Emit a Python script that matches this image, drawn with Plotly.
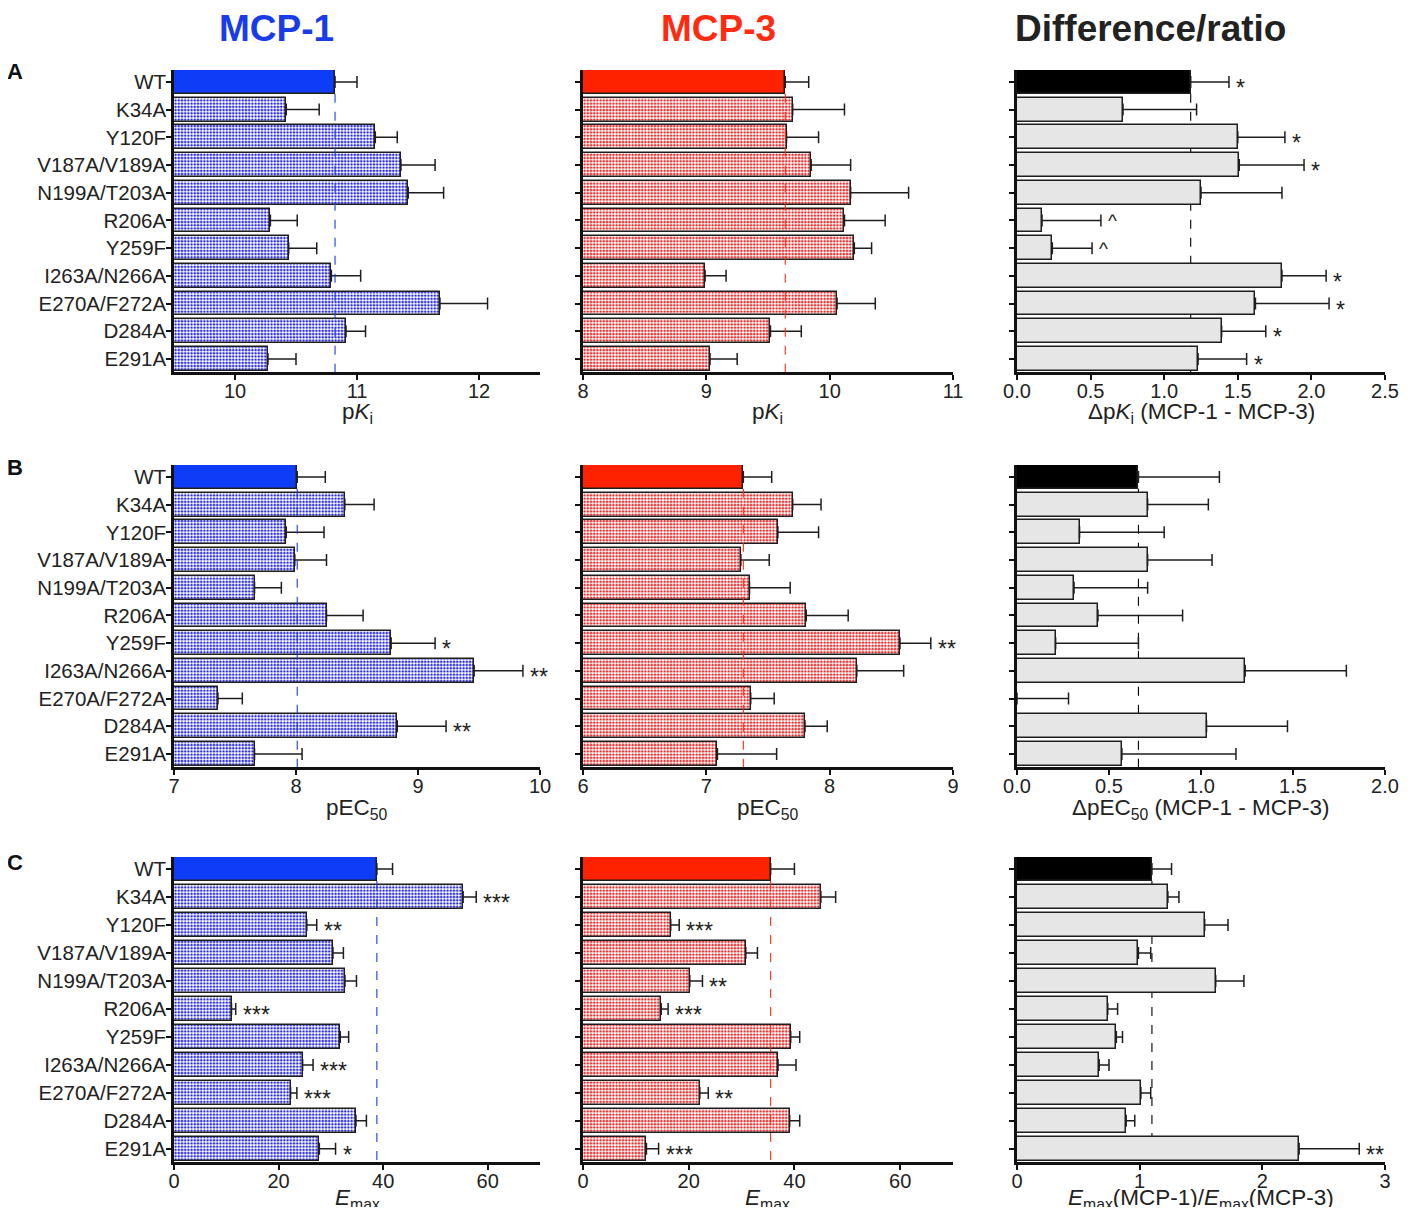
import plotly.graph_objects as go

# ---------------- data ----------------
mutants = ["WT", "K34A", "Y120F", "V187A/V189A", "N199A/T203A", "R206A", "Y259F",
           "I263A/N266A", "E270A/F272A", "D284A", "E291A"]

# Row A: pKi
pki_mcp1 = [10.82, 10.42, 11.15, 11.36, 11.42, 10.29, 10.44, 10.79, 11.68, 10.91, 10.27]
pki_mcp1_err = [0.18, 0.27, 0.18, 0.28, 0.29, 0.22, 0.23, 0.24, 0.39, 0.16, 0.23]
pki_mcp1_sig = [""] * 11
pki_mcp3 = [9.64, 9.70, 9.65, 9.85, 10.17, 10.12, 10.20, 8.99, 10.06, 9.52, 9.03]
pki_mcp3_err = [0.19, 0.42, 0.26, 0.32, 0.47, 0.33, 0.14, 0.17, 0.31, 0.25, 0.22]
pki_mcp3_sig = [""] * 11
dpki = [1.18, 0.72, 1.50, 1.51, 1.25, 0.17, 0.24, 1.80, 1.62, 1.39, 1.23]
dpki_err = [0.26, 0.50, 0.32, 0.44, 0.55, 0.40, 0.27, 0.30, 0.50, 0.30, 0.33]
dpki_sig = ["*", "", "*", "*", "", "^", "^", "*", "*", "*", "*"]

# Row B: pEC50
pec_mcp1 = [8.01, 8.40, 7.92, 7.99, 7.66, 8.25, 8.78, 9.46, 7.36, 8.83, 7.66]
pec_mcp1_err = [0.23, 0.24, 0.31, 0.26, 0.22, 0.30, 0.36, 0.40, 0.20, 0.40, 0.39]
pec_mcp1_sig = ["", "", "", "", "", "", "*", "**", "", "**", ""]
pec_mcp3 = [7.30, 7.70, 7.58, 7.28, 7.35, 7.81, 8.57, 8.22, 7.36, 7.80, 7.09]
pec_mcp3_err = [0.23, 0.23, 0.33, 0.23, 0.33, 0.34, 0.25, 0.38, 0.19, 0.18, 0.48]
pec_mcp3_sig = ["", "", "", "", "", "", "**", "", "", "", ""]
dpec = [0.66, 0.71, 0.34, 0.71, 0.31, 0.44, 0.21, 1.24, 0.0, 1.03, 0.57]
dpec_err = [0.44, 0.33, 0.46, 0.35, 0.40, 0.46, 0.45, 0.55, 0.28, 0.44, 0.62]
dpec_sig = [""] * 11

# Row C: Emax
emax_mcp1 = [38.8, 55.3, 25.4, 30.4, 32.7, 11.0, 31.8, 24.6, 22.3, 34.8, 27.8]
emax_mcp1_err = [3.0, 2.5, 1.9, 2.0, 2.2, 0.8, 1.6, 2.0, 1.2, 2.0, 3.1]
emax_mcp1_sig = ["", "***", "**", "", "", "***", "", "***", "***", "", "*"]
emax_mcp3 = [35.5, 45.0, 16.6, 30.8, 20.2, 14.8, 39.3, 36.9, 22.1, 39.1, 12.0]
emax_mcp3_err = [4.5, 2.8, 1.6, 2.2, 2.4, 1.3, 1.7, 3.4, 1.6, 1.9, 2.3]
emax_mcp3_sig = ["", "", "***", "", "**", "***", "", "", "**", "", "***"]
emax_ratio = [1.10, 1.23, 1.53, 0.99, 1.62, 0.74, 0.81, 0.67, 1.01, 0.89, 2.30]
emax_ratio_err = [0.16, 0.09, 0.19, 0.10, 0.23, 0.08, 0.05, 0.08, 0.08, 0.07, 0.49]
emax_ratio_sig = [""] * 10 + ["**"]

# axis settings
x_ranges = [[9.5, 12.5], [8, 11], [0, 2.5],
            [7, 10], [6, 9], [0, 2],
            [0, 70], [0, 70], [0, 3]]
x_ticks = [[10, 11, 12], [8, 9, 10, 11], [0, 0.5, 1, 1.5, 2, 2.5],
           [7, 8, 9, 10], [6, 7, 8, 9], [0, 0.5, 1, 1.5, 2],
           [0, 20, 40, 60], [0, 20, 40, 60], [0, 1, 2, 3]]
x_fmt = ["", "", ".1f", "", "", ".1f", "", "", ""]
x_titles = ["p<i>K</i><sub>i</sub>", "p<i>K</i><sub>i</sub>",
            "\u0394p<i>K</i><sub>i</sub> (MCP-1 - MCP-3)",
            "pEC<sub>50</sub>", "pEC<sub>50</sub>",
            "\u0394pEC<sub>50</sub> (MCP-1 - MCP-3)",
            "<i>E</i><sub>max</sub>", "<i>E</i><sub>max</sub>",
            "<i>E</i><sub>max</sub>(MCP-1)/<i>E</i><sub>max</sub>(MCP-3)"]

panels = [
    (pki_mcp1, pki_mcp1_err, pki_mcp1_sig), (pki_mcp3, pki_mcp3_err, pki_mcp3_sig), (dpki, dpki_err, dpki_sig),
    (pec_mcp1, pec_mcp1_err, pec_mcp1_sig), (pec_mcp3, pec_mcp3_err, pec_mcp3_sig), (dpec, dpec_err, dpec_sig),
    (emax_mcp1, emax_mcp1_err, emax_mcp1_sig), (emax_mcp3, emax_mcp3_err, emax_mcp3_sig),
    (emax_ratio, emax_ratio_err, emax_ratio_sig),
]

# ---------------- styling ----------------
W, H = 1399, 1199   # page has an 8px body margin
FONT = "Liberation Sans, Arial, Helvetica, sans-serif"
col_px = [(166, 532), (575, 945), (1009, 1377)]
row_px = [(62, 364), (457, 759), (849, 1154)]
title_y = [405, 801, 1191]

BLUE_T = "#1a3ce8"
RED_T = "#ff2a10"
wt_colors = ["#0f3cf7", "#ff2200", "#000000"]
mut_colors = ["#2a2ae0", "#ee2a2a", "#e6e6e6"]
mut_shapes = [".", ".", ""]
line_colors = ["#1a3ce8", "#ff2a10", "#000000"]
line_layers = ["above", "above", "below"]
BAR_W = 0.86
Y_RANGE = [10.47, -0.43]

fig = go.Figure()
layout_axes = {}
shapes = []
annotations = []

for k, (vals, errs, sigs) in enumerate(panels):
    r, c = divmod(k, 3)
    n = k + 1
    xa = "x" if n == 1 else f"x{n}"
    ya = "y" if n == 1 else f"y{n}"
    ypos = list(range(len(mutants)))
    colors = [wt_colors[c]] + [mut_colors[c]] * (len(vals) - 1)
    pshape = [""] + [mut_shapes[c]] * (len(vals) - 1)
    fig.add_trace(go.Bar(
        x=vals, y=ypos, orientation="h", width=BAR_W,
        xaxis=xa, yaxis=ya, showlegend=False,
        marker=dict(color=colors,
                    line=dict(color="#1e1e1e", width=1.5),
                    pattern=dict(shape=pshape, fillmode="replace", bgcolor="white",
                                 size=3.2, solidity=0.5)),
        error_x=dict(type="data", symmetric=False, array=errs,
                     arrayminus=[0] * len(errs), color="#1e1e1e",
                     thickness=1.5, width=6),
    ))
    # WT reference line
    shapes.append(dict(type="line", xref=xa, yref=ya, x0=vals[0], x1=vals[0],
                       y0=BAR_W / 2, y1=Y_RANGE[0], layer=line_layers[c],
                       line=dict(color=line_colors[c], width=1.1, dash="dash")))
    # significance marks
    for i, s in enumerate(sigs):
        if s:
            annotations.append(dict(xref=xa, yref=ya, x=vals[i] + errs[i], y=i,
                                    text=s, showarrow=False, xanchor="left",
                                    xshift=5, yshift=-6 if s != "^" else 0,
                                    font=dict(size=23 if s != "^" else 19,
                                              color="#1e1e1e", family=FONT)))
    dom_x = [col_px[c][0] / W, col_px[c][1] / W]
    dom_y = [1 - row_px[r][1] / H, 1 - row_px[r][0] / H]
    xkey = "xaxis" if n == 1 else f"xaxis{n}"
    ykey = "yaxis" if n == 1 else f"yaxis{n}"
    layout_axes[xkey] = dict(
        domain=dom_x, anchor=ya, range=x_ranges[k], tickvals=x_ticks[k],
        tickformat=x_fmt[k], ticks="outside", ticklen=5, tickwidth=1.5,
        tickcolor="#111", showline=True, linewidth=2.5, linecolor="#111",
        showgrid=False, zeroline=False, automargin=False,
        ticklabelstandoff=-6,
        tickfont=dict(size=20, color="#222", family=FONT),
    )
    layout_axes[ykey] = dict(
        domain=dom_y, anchor=xa, range=Y_RANGE, tickvals=ypos,
        ticktext=mutants, showticklabels=(c == 0), ticks="outside",
        ticklen=5, tickwidth=1.5, tickcolor="#111", showline=True,
        linewidth=2.5, linecolor="#111", showgrid=False, zeroline=False,
        automargin=False, ticklabelstandoff=-4,
        tickfont=dict(size=20.5, color="#222", family=FONT),
    )
    # axis title
    annotations.append(dict(xref="paper", yref="paper",
                            x=(col_px[c][0] + col_px[c][1]) / 2 / W,
                            y=1 - title_y[r] / H, text=x_titles[k], showarrow=False,
                            xanchor="center", yanchor="middle",
                            font=dict(size=22.5, color="#222", family=FONT)))

# column titles
for txt, xpx, col in [("MCP-1", 268, BLUE_T), ("MCP-3", 710, RED_T),
                      ("Difference/ratio", 1142, "#222222")]:
    annotations.append(dict(xref="paper", yref="paper", x=xpx / W, y=1 - 20 / H,
                            text=f"<b>{txt}</b>", showarrow=False,
                            xanchor="center", yanchor="middle",
                            font=dict(size=37, color=col, family=FONT)))
# panel letters
for txt, ypx in [("A", 64), ("B", 459), ("C", 854)]:
    annotations.append(dict(xref="paper", yref="paper", x=7 / W, y=1 - ypx / H,
                            text=f"<b>{txt}</b>", showarrow=False,
                            xanchor="center", yanchor="middle",
                            font=dict(size=22, color="#111", family=FONT)))

fig.update_layout(
    width=W, height=H, margin=dict(l=0, r=0, t=0, b=0),
    paper_bgcolor="white", plot_bgcolor="white",
    font=dict(family=FONT, color="#222"),
    bargap=0, shapes=shapes, annotations=annotations,
    **layout_axes,
)

fig.write_html("out.html")
